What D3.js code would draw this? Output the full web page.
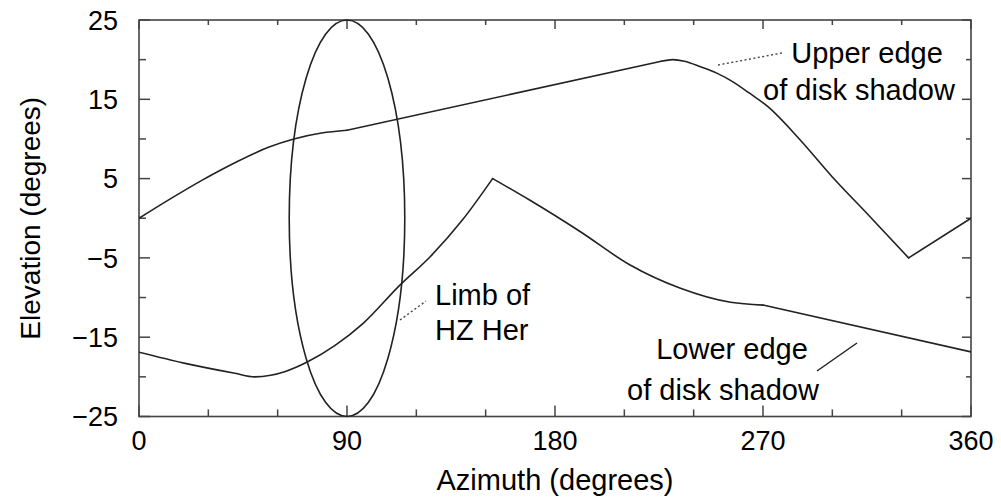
<!DOCTYPE html>
<html>
<head>
<meta charset="utf-8">
<script src="https://cdn.jsdelivr.net/npm/d3@7"></script>
<style>
  body { margin: 0; background: #fff; }
  svg { display: block; font-family: "Liberation Sans", Arial, Helvetica, sans-serif; }
</style>
</head>
<body>
<svg id="chart" width="1001" height="497"></svg>
<script>
// ---- data ----
const upperAz   = [0, 13, 27, 41.5, 56, 67, 79, 90, 226, 231, 236, 243, 250, 257, 264, 272, 286, 300, 315, 333, 360];
const upperElev = [0, 2.35, 4.75, 7.0, 8.95, 10.0, 10.75, 11.1, 19.8, 20.0, 19.8, 19.1, 18.3, 17.2, 15.8, 14.1, 9.9, 5.2, 0.6, -5, 0];
const upperCorners = [90, 226, 333];

const lowerAz   = [0, 20, 41.5, 50, 57, 63, 73, 85, 97, 113, 126, 140, 153, 169, 191, 212.5, 234, 256, 270, 360];
const lowerElev = [-16.9, -18.3, -19.55, -20, -19.8, -19.35, -18.1, -16, -13.25, -8.4, -4.85, -0.2, 5, 2.3, -1.7, -5.9, -8.8, -10.6, -10.95, -16.85];
const lowerCorners = [153, 270];

// limb of HZ Her: ellipse centre and semi-axes (degrees)
const limbCenter = [90, 0];
const limbRadii  = [25, 25];

const xTickLabels = [0, 90, 180, 270, 360];
const xMinorTicks = [30, 60, 120, 150, 210, 240, 300, 330];
const yTickLabels = [25, 15, 5, -5, -15, -25];
const yMinorTicks = [20, 10, 0, -10, -20];

// ---- layout ----
const svg = d3.select("#chart");
const mLeft = 139, mRight = 971, mTop = 20, mBottom = 416.5;
const x = d3.scaleLinear().domain([0, 360]).range([mLeft, mRight]);
const y = d3.scaleLinear().domain([-25, 25]).range([mBottom, mTop]);

const ink = "#222";

// clip
svg.append("clipPath").attr("id", "clip")
  .append("rect").attr("x", mLeft).attr("y", mTop).attr("width", mRight - mLeft).attr("height", mBottom - mTop);

// ticks
const tickG = svg.append("g").attr("stroke", "#444").attr("stroke-width", 1.5);
function vt(v, lenB, lenT) {
  tickG.append("line").attr("x1", x(v)).attr("x2", x(v)).attr("y1", mBottom).attr("y2", mBottom - lenB);
  tickG.append("line").attr("x1", x(v)).attr("x2", x(v)).attr("y1", mTop).attr("y2", mTop + lenT);
}
function ht(v, lenL, lenR) {
  tickG.append("line").attr("x1", mLeft).attr("x2", mLeft + lenL).attr("y1", y(v)).attr("y2", y(v));
  tickG.append("line").attr("x1", mRight).attr("x2", mRight - lenR).attr("y1", y(v)).attr("y2", y(v));
}
xTickLabels.forEach(v => vt(v, 11, 9));
xMinorTicks.forEach(v => vt(v, 7, 5));
yTickLabels.forEach(v => ht(v, 11, 9));
yMinorTicks.forEach(v => ht(v, 7, 5));

// frame
svg.append("rect").attr("x", mLeft).attr("y", mTop).attr("width", mRight - mLeft).attr("height", mBottom - mTop)
  .attr("fill", "none").attr("stroke", "#444").attr("stroke-width", 1.6);

// tick labels
svg.append("g").selectAll("text").data(xTickLabels).join("text")
  .attr("x", d => x(d)).attr("y", 450).attr("text-anchor", "middle")
  .attr("font-size", 27).attr("fill", "#000").text(d => d);
svg.append("g").selectAll("text").data(yTickLabels).join("text")
  .attr("x", 118).attr("y", d => y(d)).attr("dy", "0.36em").attr("text-anchor", "end")
  .attr("font-size", 27).attr("fill", "#000").text(d => d < 0 ? "\u2212" + Math.abs(d) : d);

// axis titles
svg.append("text").attr("x", (mLeft + mRight) / 2).attr("y", 490).attr("text-anchor", "middle")
  .attr("font-size", 29).attr("fill", "#000").text("Azimuth (degrees)");
svg.append("text").attr("transform", `translate(40,${(mTop + mBottom) / 2}) rotate(-90)`)
  .attr("text-anchor", "middle").attr("font-size", 28).attr("fill", "#000").text("Elevation (degrees)");

// curves: smooth pieces joined at sharp corners
const plot = svg.append("g").attr("clip-path", "url(#clip)");
const line = d3.line().x(d => x(d[0])).y(d => y(d[1])).curve(d3.curveMonotoneX);
function drawSeries(az, el, corners) {
  const pts = d3.zip(az, el);
  const cuts = [az[0], ...corners, az[az.length - 1]];
  for (let i = 0; i < cuts.length - 1; i++) {
    const seg = pts.filter(p => p[0] >= cuts[i] && p[0] <= cuts[i + 1]);
    plot.append("path").datum(seg).attr("d", line)
      .attr("fill", "none").attr("stroke", ink).attr("stroke-width", 1.6)
      .attr("stroke-linejoin", "round").attr("stroke-linecap", "round");
  }
}
drawSeries(upperAz, upperElev, upperCorners);
drawSeries(lowerAz, lowerElev, lowerCorners);

svg.append("ellipse")
  .attr("cx", x(limbCenter[0])).attr("cy", y(limbCenter[1]))
  .attr("rx", x(limbCenter[0] + limbRadii[0]) - x(limbCenter[0]))
  .attr("ry", y(limbCenter[1]) - y(limbCenter[1] + limbRadii[1]))
  .attr("fill", "none").attr("stroke", ink).attr("stroke-width", 1.6);

// annotations
const ann = svg.append("g").attr("font-size", 29).attr("fill", "#000");
ann.append("text").attr("x", 867).attr("y", 63).attr("text-anchor", "middle").text("Upper edge");
ann.append("text").attr("x", 859).attr("y", 100).attr("text-anchor", "middle").text("of disk shadow");
ann.append("text").attr("x", 435).attr("y", 305).text("Limb of");
ann.append("text").attr("x", 435).attr("y", 340).text("HZ Her");
ann.append("text").attr("x", 732).attr("y", 359).attr("text-anchor", "middle").text("Lower edge");
ann.append("text").attr("x", 723).attr("y", 400).attr("text-anchor", "middle").text("of disk shadow");

svg.append("line").attr("x1", 718).attr("y1", 65).attr("x2", 782).attr("y2", 53)
  .attr("stroke", "#444").attr("stroke-width", 1.4).attr("stroke-dasharray", "2,2.5");
svg.append("line").attr("x1", 400).attr("y1", 320).attr("x2", 426).attr("y2", 301)
  .attr("stroke", "#444").attr("stroke-width", 1.4).attr("stroke-dasharray", "2,2.5");
svg.append("line").attr("x1", 817).attr("y1", 371).attr("x2", 857).attr("y2", 343)
  .attr("stroke", ink).attr("stroke-width", 1.5);
</script>
</body>
</html>
